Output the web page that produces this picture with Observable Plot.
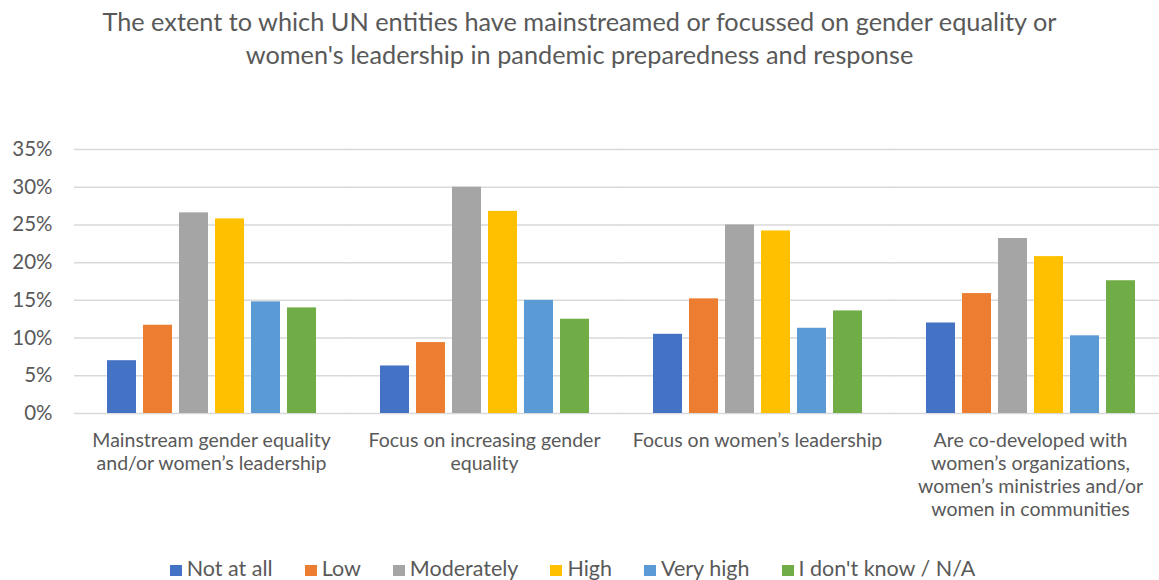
<!DOCTYPE html>
<html>
<head>
<meta charset="utf-8">
<script src="https://cdn.jsdelivr.net/npm/d3@7"></script>
<script src="https://cdn.jsdelivr.net/npm/@observablehq/plot@0.6"></script>
<style>
  body { margin: 0; background: #fff; width: 1159px; font-family: Lato, "Open Sans", sans-serif; color: #595959; }
  #title { height: 100px; box-sizing: border-box; padding-top: 5px; text-align: center; font-size: 25.3px; line-height: 33px; }
  #chart svg { display: block; }
  #legend { height: 40px; box-sizing: border-box; padding-top: 16px; padding-right: 14px; text-align: center; font-size: 21.5px; line-height: 24px; white-space: nowrap; }
  .item { display: inline-block; margin: 0 16px; }
  .sw { display: inline-block; width: 12px; height: 11px; margin-right: 5px; vertical-align: 0px; }
</style>
</head>
<body>
<div id="title">The extent to which UN entities have mainstreamed or focussed on gender equality or<br>women's leadership in pandemic preparedness and response</div>
<div id="chart"></div>
<div id="legend"></div>
<script>
const categories = [
  "Mainstream gender equality\nand/or women’s leadership",
  "Focus on increasing gender\nequality",
  "Focus on women’s leadership",
  "Are co-developed with\nwomen’s organizations,\nwomen’s ministries and/or\nwomen in communities"
];
const series = ["Not at all", "Low", "Moderately", "High", "Very high", "I don't know / N/A"];
const colors = ["#4472C4", "#ED7D31", "#A5A5A5", "#FFC000", "#5B9BD5", "#70AD47"];

const notAtAll   = [7.0, 6.3, 10.5, 12.0];
const low        = [11.7, 9.4, 15.2, 15.9];
const moderately = [26.6, 30.0, 25.0, 23.2];
const high       = [25.8, 26.8, 24.2, 20.8];
const veryHigh   = [14.8, 15.0, 11.3, 10.3];
const dontKnow   = [14.0, 12.5, 13.6, 17.6];

const yTicks = [0, 5, 10, 15, 20, 25, 30, 35];

const seriesValues = [notAtAll, low, moderately, high, veryHigh, dontKnow];
const table = [];
categories.forEach((c, i) => {
  series.forEach((s, j) => table.push({category: c, series: s, value: seriesValues[j][i]}));
});

const chart = Plot.plot({
  width: 1159,
  height: 440,
  marginLeft: 72,
  marginRight: 0,
  marginTop: 49,
  marginBottom: 127,
  style: {fontFamily: "Lato, 'Open Sans', sans-serif", color: "#595959", background: "#fff"},
  fx: {domain: categories, range: [72.6, 1168], paddingInner: 0.229, paddingOuter: 0.1145, axis: null, label: null},
  x: {domain: series, paddingInner: 0.2, paddingOuter: 0.01, axis: null},
  y: {domain: [0, 35], axis: null},
  color: {domain: series, range: colors},
  marks: [
    Plot.ruleY(yTicks, {y: d => d, stroke: "#D9D9D9", strokeWidth: 1.5, insetLeft: -32, insetRight: -32}),
    Plot.axisY({ticks: yTicks, tickFormat: d => d + "%", tickSize: 0, tickPadding: 22, dx: -32, fontSize: 20.5, label: null, fill: "#595959"}),
    Plot.barY(table, {fx: "category", x: "series", y: "value", fill: "series"}),
    Plot.text(categories, {fx: d => d, text: d => d, frameAnchor: "bottom", lineAnchor: "top", dy: 17, fontSize: 19.5, lineHeight: 1.18, fill: "#595959"})
  ]
});
document.getElementById("chart").appendChild(chart);

const legend = document.getElementById("legend");
series.forEach((s, i) => {
  const item = document.createElement("span");
  item.className = "item";
  const sw = document.createElement("span");
  sw.className = "sw";
  sw.style.background = colors[i];
  item.appendChild(sw);
  item.appendChild(document.createTextNode(s));
  legend.appendChild(item);
});
</script>
</body>
</html>
